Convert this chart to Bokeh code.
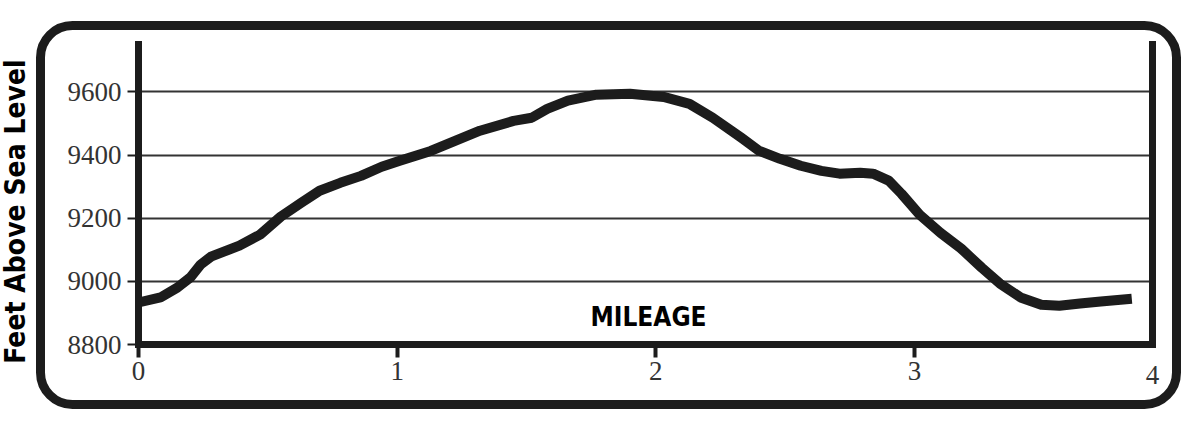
from bokeh.plotting import figure
from bokeh.models import Range1d, FixedTicker, Label, BoxAnnotation, LinearAxis
from bokeh.embed import file_html
from bokeh.resources import INLINE

# Trail elevation profile: distance along the trail (miles) and elevation (feet)
mileage = [0.00, 0.085, 0.15, 0.20, 0.24, 0.28, 0.33, 0.39, 0.47, 0.55, 0.63, 0.70,
           0.78, 0.86, 0.94, 1.01, 1.13, 1.32, 1.45, 1.52, 1.58, 1.66, 1.77, 1.90,
           2.03, 2.13, 2.22, 2.33, 2.40, 2.48, 2.56, 2.64, 2.71, 2.79, 2.84, 2.90,
           2.95, 3.02, 3.10, 3.18, 3.26, 3.33, 3.41, 3.49, 3.56, 3.64, 3.72, 3.84]
elevation = [8933, 8949, 8980, 9012, 9053, 9078, 9094, 9113, 9148, 9205, 9249, 9287,
             9312, 9334, 9363, 9382, 9413, 9477, 9508, 9518, 9546, 9572, 9591, 9594,
             9584, 9562, 9518, 9455, 9413, 9388, 9366, 9350, 9341, 9344, 9341, 9319,
             9277, 9211, 9154, 9104, 9043, 8993, 8949, 8926, 8923, 8930, 8936, 8945]

mile_ticks = [0, 1, 2, 3]
end_label = "4"
elev_ticks = [8800, 9000, 9200, 9400, 9600]

X_END = 3.92
Y_MIN, Y_MAX = 8800, 9750

# page geometry (pixels): the profile box sits inside a rounded card
W, H = 1200, 429
BOX_L, BOX_R, BOX_T, BOX_B = 138, 1152, 44, 344

INK = "#1c1c1c"
GREY = "#333333"
CONDENSED = "DejaVu Sans Condensed"
SERIF = "Liberation Serif"

# the frame fills the whole canvas; the axes are pinned to the box edges
kx = X_END / (BOX_R - BOX_L)
ky = (Y_MAX - Y_MIN) / (BOX_B - BOX_T)
x_range = Range1d(0 - BOX_L * kx, X_END + (W - BOX_R) * kx)
y_range = Range1d(Y_MIN - (H - BOX_B) * ky, Y_MAX + BOX_T * ky)

p = figure(width=W, height=H, output_backend="svg", toolbar_location=None,
           x_range=x_range, y_range=y_range, title=None, min_border=0)
p.outline_line_color = None
p.background_fill_color = "white"
p.border_fill_color = "white"

p.xaxis.fixed_location = Y_MIN
p.xaxis.bounds = (0, X_END)
p.xaxis.ticker = FixedTicker(ticks=mile_ticks)
p.yaxis.fixed_location = 0
p.yaxis.bounds = (Y_MIN, Y_MAX)
p.yaxis.ticker = FixedTicker(ticks=elev_ticks)

for ax in (p.xaxis, p.yaxis):
    ax.axis_line_width = 7
    ax.axis_line_color = INK
    ax.axis_line_cap = "square"
    ax.major_tick_line_color = INK
    ax.major_tick_in = 0
    ax.minor_tick_line_color = None
    ax.major_label_text_font = SERIF
    ax.major_label_text_font_size = "27px"
    ax.major_label_text_color = GREY
p.xaxis.major_tick_out = 13
p.xaxis.major_tick_line_width = 4
p.xaxis.major_label_standoff = 4
p.yaxis.major_tick_out = 11
p.yaxis.major_tick_line_width = 2
p.yaxis.major_label_standoff = 6

# right edge of the profile box: a bare axis line
right = LinearAxis(fixed_location=X_END, bounds=(Y_MIN, Y_MAX),
                   ticker=FixedTicker(ticks=[]), axis_line_width=7,
                   axis_line_color=INK, axis_line_cap="square",
                   major_tick_line_color=None, minor_tick_line_color=None)
p.add_layout(right, "right")

p.xgrid.grid_line_color = None
p.ygrid.ticker = FixedTicker(ticks=elev_ticks)
p.ygrid.cross_bounds = (0, X_END)
p.ygrid.grid_line_color = GREY
p.ygrid.grid_line_width = 2

# elevation profile
p.line(mileage, elevation, line_width=10, line_color=INK, line_join="round")

# labels
p.add_layout(Label(x=X_END, y=H - 374, x_units="data", y_units="screen",
                   text=end_label, text_align="center", text_baseline="middle",
                   text_font=SERIF, text_font_size="27px", text_color=GREY))
p.add_layout(Label(x=648, y=H - 316, x_units="screen", y_units="screen",
                   text="MILEAGE", text_align="center", text_baseline="middle",
                   text_font=CONDENSED, text_font_style="bold",
                   text_font_size="26px", text_color="black"))
p.add_layout(Label(x=15, y=H - 211, x_units="screen", y_units="screen",
                   text="Feet Above Sea Level", angle=90, angle_units="deg",
                   text_align="center", text_baseline="middle",
                   text_font=CONDENSED, text_font_style="bold",
                   text_font_size="28px", text_color="black"))

# rounded card around the chart
p.add_layout(BoxAnnotation(left=40, right=1176, bottom=H - 404, top=H - 25,
                           left_units="screen", right_units="screen",
                           top_units="screen", bottom_units="screen",
                           border_radius=32, fill_alpha=0, line_color=INK,
                           line_alpha=1.0, line_width=9))

open("out.html", "w").write(file_html(p, INLINE))
